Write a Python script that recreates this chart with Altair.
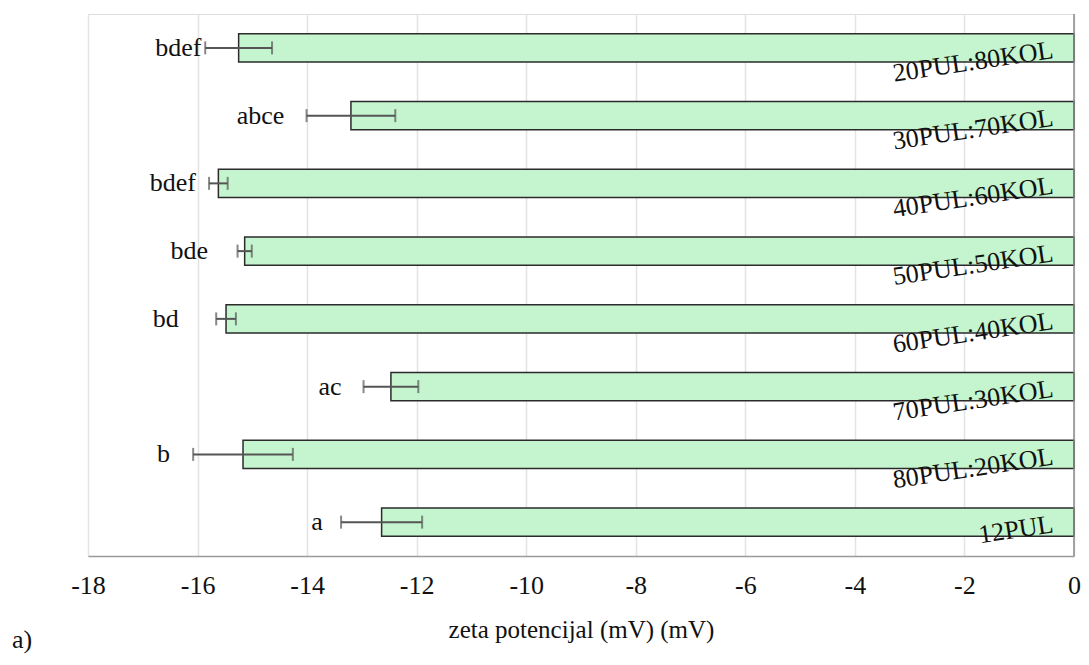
import altair as alt
import pandas as pd

categories = ["20PUL:80KOL", "30PUL:70KOL", "40PUL:60KOL", "50PUL:50KOL",
              "60PUL:40KOL", "70PUL:30KOL", "80PUL:20KOL", "12PUL"]
values = [-15.25, -13.20, -15.62, -15.14, -15.48, -12.47, -15.17, -12.64]
errors = [0.61, 0.81, 0.17, 0.13, 0.18, 0.50, 0.91, 0.74]
letters = ["bdef", "abce", "bdef", "bde", "bd", "ac", "b", "a"]
letter_x = [-16.35, -14.85, -16.45, -16.15, -16.58, -13.58, -16.62, -13.82]
x_ticks = [-18, -16, -14, -12, -10, -8, -6, -4, -2, 0]

df = pd.DataFrame({
    "cat": categories,
    "val": values,
    "lo": [v - e for v, e in zip(values, errors)],
    "hi": [v + e for v, e in zip(values, errors)],
    "letter": letters,
    "lx": letter_x,
    "zero": [0] * len(categories),
})

FONT = "Liberation Serif"

xscale = alt.Scale(domain=[-18, 0], nice=False, zero=False)
yscale = alt.Scale(domain=categories, paddingInner=0.585, paddingOuter=0.2925)

x_axis = alt.Axis(values=x_ticks, labelExpr="datum.value + ''", title="zeta potencijal (mV) (mV)",
                  grid=True, gridColor="#e3e3e3", gridWidth=1.5,
                  domainColor="#9a9a9a", domainWidth=1.5, ticks=False, tickSize=0,
                  labelFlush=False, labelOverlap=False,
                  labelPadding=16, labelFont=FONT, labelFontSize=26, labelColor="#111",
                  titleFont=FONT, titleFontSize=25, titleFontWeight="normal", titleColor="#111",
                  titleBaseline="alphabetic", titleY=81)
y_enc = alt.Y("cat:N", scale=yscale, sort=categories, axis=None)

base = alt.Chart(df)

bars = base.mark_bar(color="#c4f5cf", stroke="#2b2b2b", strokeWidth=1.5).encode(
    x=alt.X("val:Q", scale=xscale, axis=x_axis),
    x2="zero:Q",
    y=y_enc,
)

zero_line = alt.Chart(pd.DataFrame({"z": [0]})).mark_rule(color="#8a8a8a", strokeWidth=1.5).encode(
    x=alt.X("z:Q", scale=xscale)
)

err_rule = base.mark_rule(color="#555555", strokeWidth=2).encode(
    x=alt.X("lo:Q", scale=xscale), x2="hi:Q", y=y_enc
)
cap_lo = base.mark_tick(color="#555555", thickness=2, size=13).encode(
    x=alt.X("lo:Q", scale=xscale), y=y_enc
)
cap_hi = base.mark_tick(color="#555555", thickness=2, size=13).encode(
    x=alt.X("hi:Q", scale=xscale), y=y_enc
)

letter_text = base.mark_text(font=FONT, fontSize=26, color="#111", align="center",
                             baseline="middle").encode(
    x=alt.X("lx:Q", scale=xscale), y=y_enc, text="letter:N"
)

cat_text = base.mark_text(font=FONT, fontSize=26, color="#111", align="right",
                          baseline="alphabetic", angle=351.5, dx=-21, dy=7).encode(
    x=alt.X("zero:Q", scale=xscale), y=y_enc, text="cat:N"
)

panel_label = alt.Chart(pd.DataFrame({"t": ["a)"]})).mark_text(
    font=FONT, fontSize=26, color="#111", align="left", baseline="alphabetic"
).encode(x=alt.value(-76), y=alt.value(634), text="t:N")

chart = alt.layer(bars, zero_line, err_rule, cap_lo, cap_hi, letter_text, cat_text, panel_label).properties(
    width=986, height=542,
    autosize=alt.AutoSizeParams(type="none"),
    padding={"left": 80, "top": 6, "right": 7, "bottom": 101},
).configure_view(stroke=None).configure(background="white")

chart.save("out.html", embed_options={"renderer": "svg", "actions": False})
